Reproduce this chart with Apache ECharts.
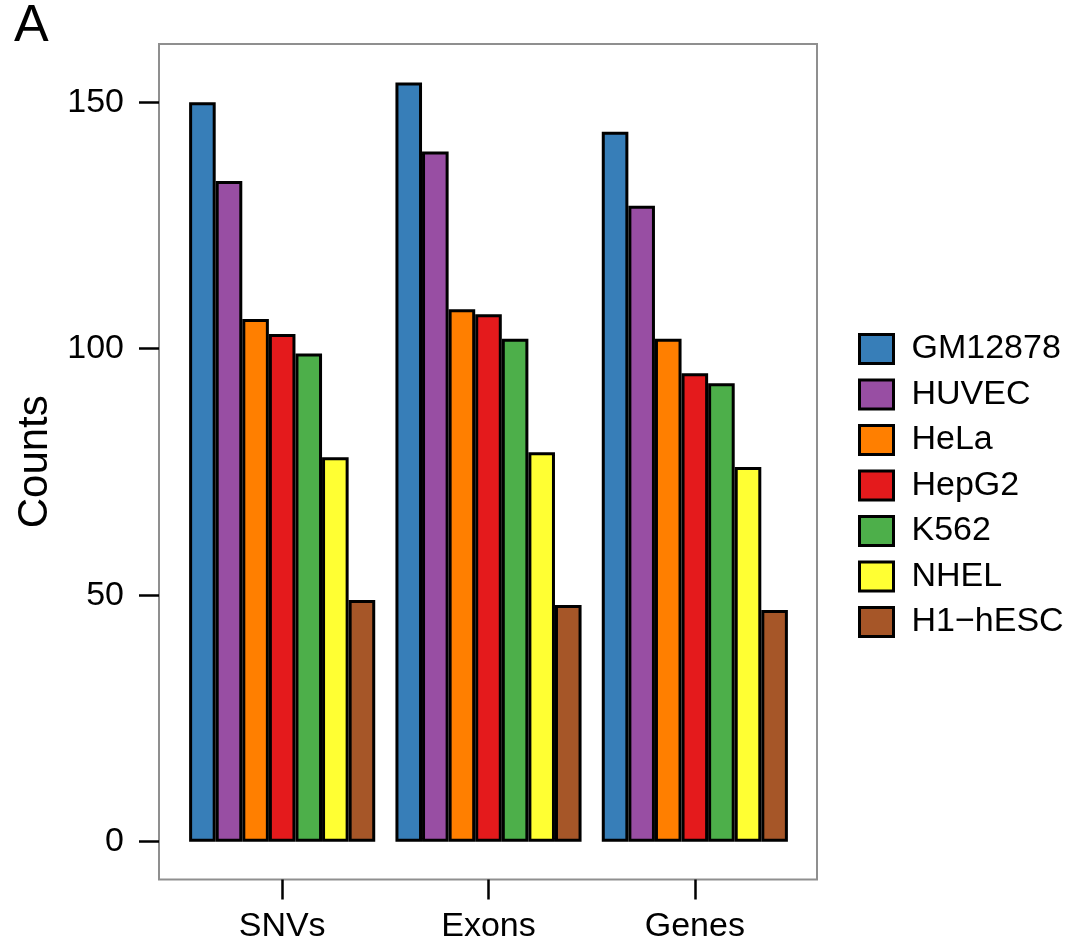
<!DOCTYPE html>
<html>
<head>
<meta charset="utf-8">
<title>Counts by cell line</title>
<script src="https://cdn.jsdelivr.net/npm/echarts@6/dist/echarts.min.js"></script>
<style>
  html, body { margin: 0; padding: 0; background: #fff; }
  #chart { width: 1073px; height: 940px; }
</style>
</head>
<body>
<div id="chart"></div>
<script>
// Feature groups on the x axis
const categories = ['SNVs', 'Exons', 'Genes'];

// Cell lines (legend order) and their counts per feature group
const cellLines = ['GM12878', 'HUVEC', 'HeLa', 'HepG2', 'K562', 'NHEL', 'H1\u2212hESC'];
const gm12878 = [150, 154, 144];
const huvec   = [134, 140, 129];
const hela    = [106, 108, 102];
const hepg2   = [103, 107, 95];
const k562    = [99, 102, 93];
const nhel    = [78, 79, 76];
const h1hesc  = [49, 48, 47];
const seriesValues = [gm12878, huvec, hela, hepg2, k562, nhel, h1hesc];

// y axis tick labels
const yTicks = [0, 50, 100, 150];

// ColorBrewer Set1
const palette = ['#377EB8', '#984EA3', '#FF7F00', '#E41A1C', '#4DAF4A', '#FFFF33', '#A65628'];

const FONT = 'Liberation Sans, Arial, Helvetica, sans-serif';

const chart = echarts.init(document.getElementById('chart'), null, { renderer: 'canvas' });

const series = cellLines.map((name, i) => ({
  name: name,
  type: 'bar',
  data: seriesValues[i],
  barGap: '0%',
  barCategoryGap: '9.8%',
  itemStyle: { color: palette[i], borderColor: '#000', borderWidth: 3 },
  emphasis: { disabled: true },
  animation: false
}));

chart.setOption({
  animation: false,
  backgroundColor: '#fff',
  textStyle: { fontFamily: FONT },
  title: {
    text: 'A',
    left: 9,
    top: -4,
    textStyle: { fontFamily: FONT, fontSize: 52, fontWeight: 'normal', color: '#000' }
  },
  grid: { left: 179, width: 619, top: 44, height: 835.5, outerBoundsMode: 'none', containLabel: false },
  // plot frame
  graphic: [{
    type: 'rect',
    shape: { x: 159, y: 44, width: 658, height: 835.5 },
    style: { fill: null, stroke: '#8f8f8f', lineWidth: 2 },
    z: 0, silent: true
  }],
  legend: {
    orient: 'vertical',
    left: 858,
    top: 332,
    padding: 0,
    itemWidth: 34,
    itemHeight: 29,
    itemGap: 11.5,
    icon: 'rect',
    data: cellLines,
    selectedMode: false,
    itemStyle: { borderColor: '#000', borderWidth: 3 },
    textStyle: { fontFamily: FONT, fontSize: 34, color: '#000', padding: [0, 0, 0, 13] }
  },
  xAxis: {
    type: 'category',
    data: categories,
    axisLine: { show: false, onZero: false },
    axisTick: { show: true, alignWithLabel: true, length: 20, lineStyle: { color: '#000', width: 2.5 } },
    axisLabel: { fontFamily: FONT, fontSize: 34, color: '#000', margin: 30 },
    splitLine: { show: false }
  },
  yAxis: {
    type: 'value',
    min: -7.67,
    max: 161.8,
    offset: 20,
    name: 'Counts',
    nameLocation: 'middle',
    nameRotate: 90,
    nameGap: 97,
    nameTextStyle: { fontFamily: FONT, fontSize: 42, color: '#000' },
    axisLine: { show: false },
    axisTick: { show: true, length: 20, customValues: yTicks, lineStyle: { color: '#000', width: 2.5 } },
    axisLabel: { fontFamily: FONT, fontSize: 34, color: '#000', margin: 35, customValues: yTicks },
    splitLine: { show: false }
  },
  series: series
});
</script>
</body>
</html>
